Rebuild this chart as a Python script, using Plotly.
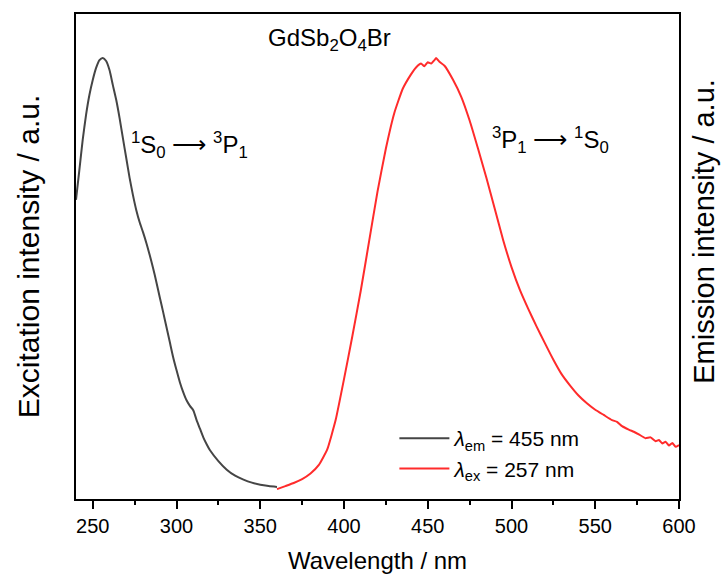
import plotly.graph_objects as go

# Excitation spectrum (monitored at 455 nm), normalised intensity
exc_nm = [240, 242, 244, 246, 248, 250, 252, 254, 256, 258, 260, 262, 264, 266,
          268, 270, 272, 274, 276, 278, 280, 282, 284, 286, 288, 290, 292, 294,
          296, 298, 300, 302, 304, 306, 308, 310, 312, 314, 316, 318, 320, 325,
          330, 335, 340, 345, 350, 355, 360]
exc_int = [0.671, 0.740, 0.810, 0.868, 0.914, 0.949, 0.977, 0.995, 1.000, 0.993,
           0.972, 0.937, 0.903, 0.861, 0.814, 0.768, 0.722, 0.682, 0.647, 0.619,
           0.596, 0.571, 0.543, 0.513, 0.480, 0.445, 0.411, 0.376, 0.341, 0.306,
           0.276, 0.248, 0.225, 0.206, 0.193, 0.183, 0.160, 0.140, 0.120, 0.104,
           0.090, 0.065, 0.045, 0.031, 0.022, 0.015, 0.010, 0.007, 0.005]

# Emission spectrum (excited at 257 nm), normalised intensity
em_nm = [360, 365, 370, 375, 380, 385, 390, 395, 400, 405, 410, 415, 420, 425,
         430, 435, 440, 443, 446, 448, 450, 452, 454, 455, 457, 460, 465, 470,
         475, 480, 485, 490, 495, 500, 505, 510, 515, 520, 525, 530, 535, 540,
         545, 550, 555, 560, 563, 566, 570, 573, 576, 580, 583, 586, 588, 590,
         592, 594, 596, 598, 600]
em_int = [0.000, 0.007, 0.014, 0.023, 0.036, 0.056, 0.092, 0.160, 0.255, 0.355,
          0.460, 0.575, 0.690, 0.790, 0.872, 0.928, 0.962, 0.978, 0.987, 0.981,
          0.990, 0.987, 0.995, 1.000, 0.991, 0.982, 0.950, 0.910, 0.855, 0.790,
          0.722, 0.650, 0.578, 0.515, 0.462, 0.418, 0.377, 0.338, 0.300, 0.266,
          0.240, 0.217, 0.199, 0.184, 0.172, 0.160, 0.156, 0.146, 0.138, 0.133,
          0.127, 0.118, 0.120, 0.111, 0.114, 0.106, 0.110, 0.101, 0.107, 0.098,
          0.102]

x_ticks = [250, 300, 350, 400, 450, 500, 550, 600]
y_range = [-0.023, 1.102]

font_family = "Arial, Liberation Sans, sans-serif"

fig = go.Figure()
fig.add_trace(go.Scatter(
    x=exc_nm, y=exc_int, mode="lines", yaxis="y",
    line=dict(color="#454545", width=2, shape="spline", smoothing=0.6),
    name="<i>λ</i><sub>em</sub> = 455 nm",
))
fig.add_trace(go.Scatter(
    x=em_nm, y=em_int, mode="lines", yaxis="y2",
    line=dict(color="#ff2b2b", width=2, shape="spline", smoothing=0.4),
    name="<i>λ</i><sub>ex</sub> = 257 nm",
))

axis_line = dict(showline=True, linecolor="black", linewidth=1.5, mirror=True,
                 showgrid=False, zeroline=False, automargin=False)

fig.update_layout(
    width=722, height=574,
    margin=dict(l=76, r=43, t=14, b=75),
    paper_bgcolor="white", plot_bgcolor="white",
    font=dict(family=font_family, size=20, color="black"),
    xaxis=dict(
        range=[240, 600], tickvals=x_ticks, ticks="outside", ticklen=8,
        tickwidth=1.5, tickcolor="black",
        minor=dict(dtick=25, tick0=0, ticks="outside", ticklen=4,
                   tickwidth=1.5, tickcolor="black"),
        tickfont=dict(size=20),
        title=dict(text="Wavelength / nm", font=dict(size=24), standoff=22),
        **axis_line,
    ),
    yaxis=dict(
        range=y_range, showticklabels=False, ticks="",
        title=dict(text="Excitation intensity / a.u.", font=dict(size=30),
                   standoff=26),
        **axis_line,
    ),
    yaxis2=dict(
        range=y_range, overlaying="y", side="right", showticklabels=False,
        ticks="", showline=False, showgrid=False, zeroline=False,
        automargin=False,
    ),
    showlegend=True,
    legend=dict(x=0.528, y=0.167, xanchor="left", yanchor="top",
                bgcolor="rgba(0,0,0,0)", font=dict(size=21),
                itemwidth=50, tracegroupgap=0),
    annotations=[
        # right-hand axis title, set slightly above the axis centre
        dict(text="Emission intensity / a.u.", x=1.0, y=0.551,
             xref="paper", yref="paper", xanchor="center", yanchor="middle",
             xshift=25, textangle=-90, showarrow=False, font=dict(size=29)),
        dict(text="GdSb<sub>2</sub>O<sub>4</sub>Br", x=391.5, y=0.983,
             xref="x", yref="paper", showarrow=False, font=dict(size=24)),
        dict(text="<sup>1</sup>S<sub>0</sub> ⟶ <sup>3</sup>P<sub>1</sub>",
             x=308, y=0.770, xref="x", yref="paper", showarrow=False,
             font=dict(size=24)),
        dict(text="<sup>3</sup>P<sub>1</sub> ⟶ <sup>1</sup>S<sub>0</sub>",
             x=523, y=0.780, xref="x", yref="paper", showarrow=False,
             font=dict(size=24)),
    ],
)

fig.write_html("out.html")
